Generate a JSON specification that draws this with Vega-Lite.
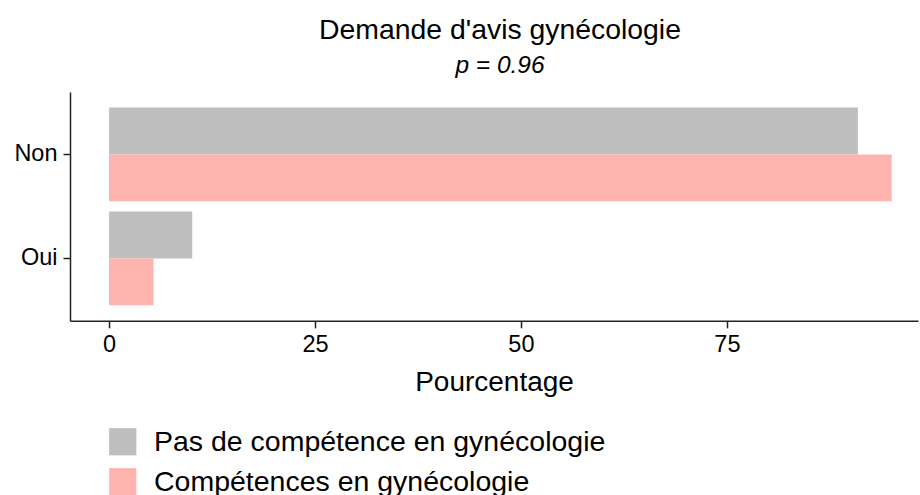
{
  "$schema": "https://vega.github.io/schema/vega-lite/v6.json",
  "autosize": "none",
  "width": 848,
  "height": 228.8,
  "padding": {"left": 70, "top": 92, "right": 2, "bottom": 175},
  "background": "white",
  "title": {
    "text": "Demande d'avis gynécologie",
    "subtitle": "p = 0.96",
    "anchor": "middle",
    "frame": "group",
    "dx": 6,
    "font": "Liberation Sans",
    "fontSize": 28.4,
    "fontWeight": "normal",
    "color": "black",
    "subtitleFont": "Liberation Sans",
    "subtitleFontSize": 24.5,
    "subtitleFontStyle": "italic",
    "subtitleColor": "black",
    "subtitlePadding": 9,
    "offset": 13
  },
  "data": {
    "values": [
      {"reponse": "Non", "groupe": "Pas de compétence en gynécologie", "pct": 90.9},
      {"reponse": "Non", "groupe": "Compétences en gynécologie", "pct": 95.0},
      {"reponse": "Oui", "groupe": "Pas de compétence en gynécologie", "pct": 10.1},
      {"reponse": "Oui", "groupe": "Compétences en gynécologie", "pct": 5.4}
    ]
  },
  "mark": {"type": "bar"},
  "encoding": {
    "y": {
      "field": "reponse",
      "type": "nominal",
      "sort": ["Non", "Oui"],
      "scale": {"paddingInner": 0.1, "paddingOuter": 0.15},
      "axis": {
        "title": null,
        "labelFont": "Liberation Sans",
        "labelFontSize": 23.5,
        "labelColor": "black",
        "labelPadding": 6,
        "tickSize": 7,
        "tickColor": "#222",
        "tickWidth": 1.5,
        "domainColor": "#222",
        "domainWidth": 1.5,
        "grid": false
      }
    },
    "yOffset": {
      "field": "groupe",
      "type": "nominal",
      "sort": ["Pas de compétence en gynécologie", "Compétences en gynécologie"],
      "scale": {"paddingInner": 0, "paddingOuter": 0}
    },
    "x": {
      "field": "pct",
      "type": "quantitative",
      "scale": {"domain": [-4.74, 98.2], "nice": false, "zero": false},
      "axis": {
        "title": "Pourcentage",
        "values": [0, 25, 50, 75],
        "titleFont": "Liberation Sans",
        "titleFontSize": 28,
        "titleFontWeight": "normal",
        "titleColor": "black",
        "titlePadding": 12,
        "labelFont": "Liberation Sans",
        "labelFontSize": 23.5,
        "labelColor": "black",
        "labelPadding": 5,
        "tickSize": 7,
        "tickColor": "#222",
        "tickWidth": 1.5,
        "domainColor": "#222",
        "domainWidth": 1.5,
        "grid": false
      }
    },
    "x2": {"datum": 0},
    "color": {
      "field": "groupe",
      "type": "nominal",
      "sort": ["Pas de compétence en gynécologie", "Compétences en gynécologie"],
      "scale": {
        "domain": ["Pas de compétence en gynécologie", "Compétences en gynécologie"],
        "range": ["#bebebe", "#ffb3ae"]
      },
      "legend": {
        "title": null,
        "orient": "none",
        "legendX": 38.5,
        "legendY": 335.5,
        "direction": "vertical",
        "symbolType": "square",
        "symbolSize": 740,
        "symbolStrokeWidth": 0,
        "symbolOpacity": 1,
        "labelFont": "Liberation Sans",
        "labelFontSize": 28.5,
        "labelColor": "black",
        "labelOffset": 17,
        "rowPadding": 11,
        "padding": 0,
        "labelLimit": 700
      }
    }
  },
  "config": {
    "view": {"stroke": null}
  }
}
